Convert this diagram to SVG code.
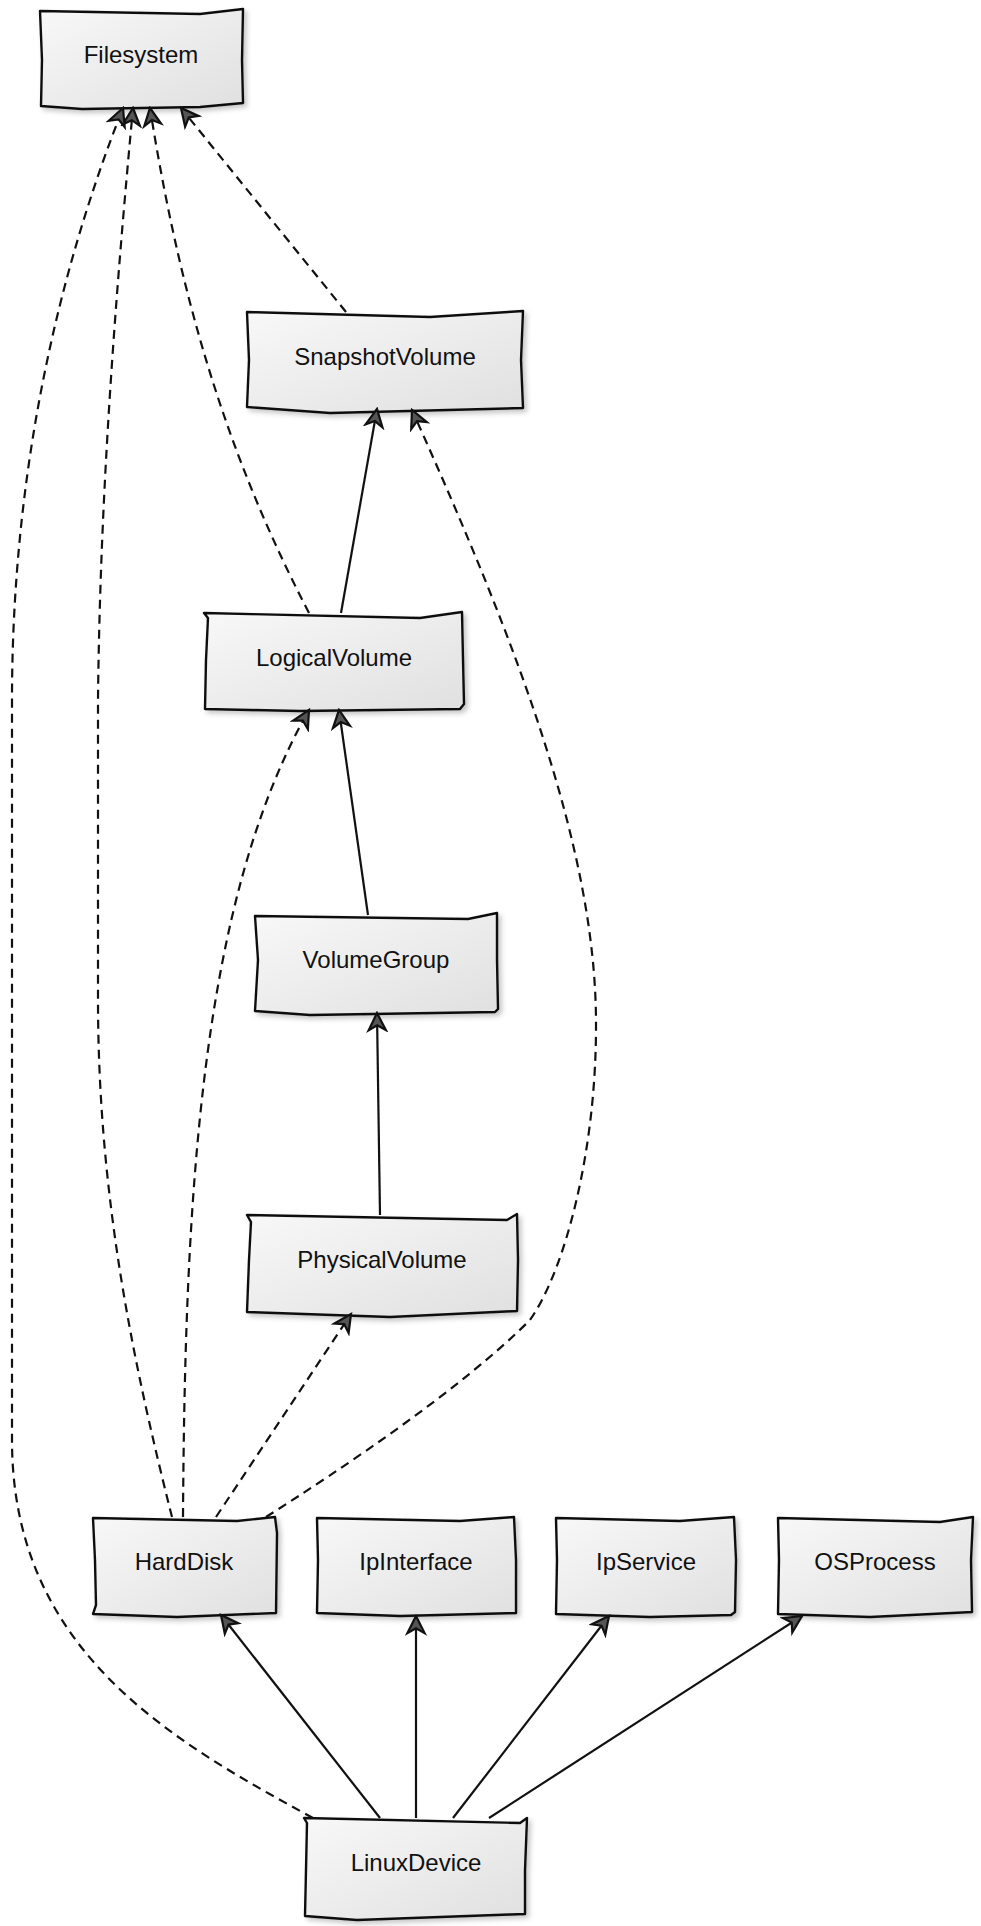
<svg xmlns="http://www.w3.org/2000/svg" width="981" height="1926" viewBox="0 0 981 1926">
<defs>
<linearGradient id="fillG" x1="0" y1="0" x2="1" y2="1">
<stop offset="0" stop-color="#f8f8f8"/>
<stop offset="1" stop-color="#e0e0e0"/>
</linearGradient>
<filter id="shadow" x="-10%" y="-10%" width="125%" height="130%">
<feDropShadow dx="3" dy="3" stdDeviation="2.5" flood-color="#000" flood-opacity="0.22"/>
</filter>
<marker id="arrow" viewBox="0 0 18 18" refX="16" refY="9" markerWidth="22" markerHeight="22" markerUnits="userSpaceOnUse" orient="auto">
<path d="M2,2 L16,9 L2,16 L6,9 Z" fill="#555" stroke="#111" stroke-width="1.8" stroke-linejoin="miter" stroke-dasharray="none"/>
</marker>
</defs>
<style>
.node path{fill:url(#fillG);stroke:#111;stroke-width:2.4;stroke-linejoin:round;filter:url(#shadow);}
.node text{font-family:"Liberation Sans",Arial,sans-serif;font-size:24px;fill:#111;text-anchor:middle;}
.edge{fill:none;stroke:#111;stroke-width:2.2;marker-end:url(#arrow);}
.dash{stroke-dasharray:9 6;}
</style>
<rect width="981" height="1926" fill="#fff"/>
<g id="nodes">
<g id="Filesystem" class="node">
<path d="M40,11 L200,14 L243,9 L242,60 L243,103 L200,107 L82,109 L41,106 L42,60 Z"/>
<text x="141" y="63">Filesystem</text>
</g>
<g id="SnapshotVolume" class="node">
<path d="M247,312 L430,317 L523,311 L521,360 L523,408 L330,413 L247,407 L249,360 Z"/>
<text x="385" y="365">SnapshotVolume</text>
</g>
<g id="LogicalVolume" class="node">
<path d="M204,613 L420,618 L462,612 L463,660 L464,704 L460,709 L300,711 L205,709 L206,660 L208,618 Z"/>
<text x="334" y="666">LogicalVolume</text>
</g>
<g id="VolumeGroup" class="node">
<path d="M255,916 L468,919 L497,913 L497,960 L498,1009 L495,1012 L310,1015 L255,1011 L258,960 Z"/>
<text x="376" y="968">VolumeGroup</text>
</g>
<g id="PhysicalVolume" class="node">
<path d="M247,1215 L507,1220 L517,1214 L518,1260 L517,1311 L390,1317 L247,1312 L249,1260 L251,1222 Z"/>
<text x="382" y="1268">PhysicalVolume</text>
</g>
<g id="HardDisk" class="node">
<path d="M93,1518 L237,1521 L275,1517 L277,1533 L276,1613 L177,1617 L93,1614 L96,1605 L95,1560 Z"/>
<text x="184" y="1570">HardDisk</text>
</g>
<g id="IpInterface" class="node">
<path d="M317,1518 L460,1521 L514,1517 L516,1560 L516,1613 L400,1616 L317,1613 L318,1560 Z"/>
<text x="416" y="1570">IpInterface</text>
</g>
<g id="IpService" class="node">
<path d="M556,1518 L680,1521 L734,1517 L736,1560 L735,1612 L731,1615 L650,1617 L556,1614 L557,1560 Z"/>
<text x="646" y="1570">IpService</text>
</g>
<g id="OSProcess" class="node">
<path d="M778,1518 L940,1522 L973,1517 L971,1560 L972,1612 L870,1617 L778,1614 L779,1560 Z"/>
<text x="875" y="1570">OSProcess</text>
</g>
<g id="LinuxDevice" class="node">
<path d="M304,1818 L520,1823 L527,1818 L525,1870 L525,1914 L357,1920 L305,1916 L306,1870 L307,1823 Z"/>
<text x="416" y="1871">LinuxDevice</text>
</g>
</g>
<g id="connectors">
<path class="edge dash" d="M346,312 L181,108"/>
<path class="edge dash" d="M309,613 C240,480 185,330 150,108"/>
<path class="edge" d="M341,613 L377,409"/>
<path class="edge" d="M368,915 L339,710"/>
<path class="edge" d="M380,1215 L377,1013"/>
<path class="edge dash" d="M216,1517 L351,1314"/>
<path class="edge dash" d="M183,1517 C185,1200 200,900 309,710"/>
<path class="edge dash" d="M172,1517 C135,1370 98,1200 98,1000 L98,700 C100,500 115,300 133,108"/>
<path class="edge dash" d="M266,1517 C340,1470 460,1390 530,1320 C565,1270 597,1150 596,1020 C595,850 520,650 412,410"/>
<path class="edge dash" d="M313,1818 C170,1740 12,1650 12,1440 L12,700 C12,480 55,280 123,108"/>
<path class="edge" d="M380,1818 L221,1615"/>
<path class="edge" d="M416,1818 L416,1616"/>
<path class="edge" d="M453,1818 L609,1616"/>
<path class="edge" d="M489,1818 L802,1616"/>
</g>
</svg>
